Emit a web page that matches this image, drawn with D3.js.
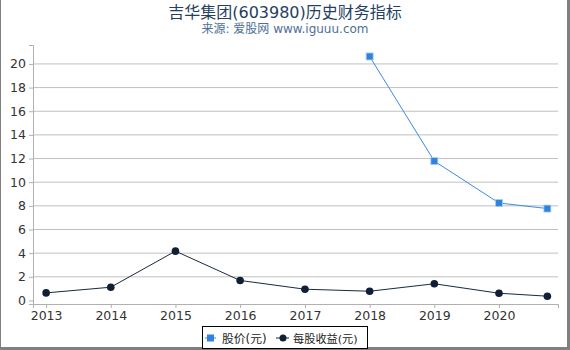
<!DOCTYPE html>
<html>
<head>
<meta charset="utf-8">
<script src="https://cdn.jsdelivr.net/npm/d3@7"></script>
<style>
  body { margin: 0; background: #fff; }
  svg { display: block; font-family: "DejaVu Sans", "Noto Sans CJK SC", sans-serif; }
</style>
</head>
<body>
<div id="chart"></div>
<script>
// données
const priceDates = ["2018-01-01", "2019-01-01", "2020-01-01", "2020-09-30"];
const priceValues = [20.63, 11.78, 8.24, 7.77];
const epsDates = ["2013-01-01", "2014-01-01", "2015-01-01", "2016-01-01", "2017-01-01",
                  "2018-01-01", "2019-01-01", "2020-01-01", "2020-09-30"];
const epsValues = [0.64, 1.12, 4.17, 1.69, 0.95, 0.78, 1.41, 0.61, 0.36];
const yTicks = [0, 2, 4, 6, 8, 10, 12, 14, 16, 18, 20];
const xTickYears = [2013, 2014, 2015, 2016, 2017, 2018, 2019, 2020];
const seriesNames = ["股价(元)", "每股收益(元)"];

const width = 570, height = 350;
const margin = { top: 45, right: 12, bottom: 46, left: 33 };
const parse = d3.timeParse("%Y-%m-%d");

const svg = d3.select("#chart").append("svg")
  .attr("width", width)
  .attr("height", height);

// cadre gris
svg.append("rect").attr("x", 0).attr("y", 0).attr("width", 1).attr("height", height).attr("fill", "#808080");
svg.append("rect").attr("x", width - 3).attr("y", 0).attr("width", 3).attr("height", height).attr("fill", "#808080");
svg.append("rect").attr("x", 0).attr("y", height - 3).attr("width", width).attr("height", 3).attr("fill", "#808080");

// titres
svg.append("text")
  .attr("x", width / 2).attr("y", 18)
  .attr("text-anchor", "middle")
  .attr("font-size", 16)
  .attr("fill", "#253f5e")
  .text("吉华集团(603980)历史财务指标");
svg.append("text")
  .attr("x", width / 2).attr("y", 33)
  .attr("text-anchor", "middle")
  .attr("font-size", 12)
  .attr("fill", "#4e6f96")
  .text("来源: 爱股网 www.iguuu.com");

const x = d3.scaleTime()
  .domain([parse("2012-10-19"), parse("2020-11-29")])
  .range([margin.left, width - margin.right]);

const y = d3.scaleLinear()
  .domain([-0.3, 21.6])
  .range([height - margin.bottom, margin.top]);

// grille
svg.append("g")
  .selectAll("line")
  .data(yTicks.filter(d => d > 0))
  .join("line")
  .attr("x1", margin.left).attr("x2", width - margin.right)
  .attr("y1", d => y(d)).attr("y2", d => y(d))
  .attr("stroke", "#c0c0c0")
  .attr("stroke-width", 1);

// axes
const yAxis = svg.append("g")
  .attr("transform", `translate(${margin.left},0)`)
  .call(d3.axisLeft(y).tickValues(yTicks).tickSize(4).tickPadding(3));
const xAxis = svg.append("g")
  .attr("transform", `translate(0,${height - margin.bottom})`)
  .call(d3.axisBottom(x).tickValues(xTickYears.map(v => new Date(v, 0, 1)))
    .tickFormat(d3.timeFormat("%Y")).tickSize(4).tickPadding(3));

[yAxis, xAxis].forEach(a => {
  a.select(".domain").attr("stroke", "#b0b0b0");
  a.selectAll(".tick line").attr("stroke", "#b0b0b0");
  a.selectAll(".tick text").attr("fill", "#333").attr("font-size", 12.5)
    .attr("font-family", "DejaVu Sans, sans-serif");
});

// séries
const price = priceDates.map((d, i) => ({ date: parse(d), value: priceValues[i] }));
const eps = epsDates.map((d, i) => ({ date: parse(d), value: epsValues[i] }));

const line = d3.line().x(d => x(d.date)).y(d => y(d.value));

svg.append("path").datum(eps)
  .attr("d", line).attr("fill", "none")
  .attr("stroke", "#1a2a40").attr("stroke-width", 1);
svg.append("g").selectAll("circle").data(eps).join("circle")
  .attr("cx", d => x(d.date)).attr("cy", d => y(d.value))
  .attr("r", 3.8).attr("fill", "#0f1f35");

svg.append("path").datum(price)
  .attr("d", line).attr("fill", "none")
  .attr("stroke", "#3a8be0").attr("stroke-width", 1);
svg.append("g").selectAll("rect").data(price).join("rect")
  .attr("x", d => x(d.date) - 3.5).attr("y", d => y(d.value) - 3.5)
  .attr("width", 7).attr("height", 7)
  .attr("fill", "#2f82de").attr("stroke", "#a9cdf3").attr("stroke-width", 0.8);

// légende
const legend = svg.append("g").attr("transform", "translate(202,326)");
legend.append("rect")
  .attr("x", 0.5).attr("y", 0.5).attr("width", 165).attr("height", 22)
  .attr("fill", "#fff").attr("stroke", "#000").attr("stroke-width", 1);

legend.append("line").attr("x1", 3).attr("x2", 14).attr("y1", 12).attr("y2", 12)
  .attr("stroke", "#3a8be0").attr("stroke-width", 1);
legend.append("rect").attr("x", 5).attr("y", 8.5).attr("width", 7).attr("height", 7)
  .attr("fill", "#2f82de");
legend.append("text").attr("x", 20).attr("y", 16.5).attr("font-size", 11.8).attr("fill", "#222")
  .text(seriesNames[0]);

legend.append("line").attr("x1", 74).attr("x2", 87).attr("y1", 12).attr("y2", 12)
  .attr("stroke", "#1a2a40").attr("stroke-width", 1);
legend.append("circle").attr("cx", 81).attr("cy", 12).attr("r", 3.5).attr("fill", "#0f1f35");
legend.append("text").attr("x", 91).attr("y", 16.5).attr("font-size", 11.2).attr("fill", "#222")
  .text(seriesNames[1]);
</script>
</body>
</html>
